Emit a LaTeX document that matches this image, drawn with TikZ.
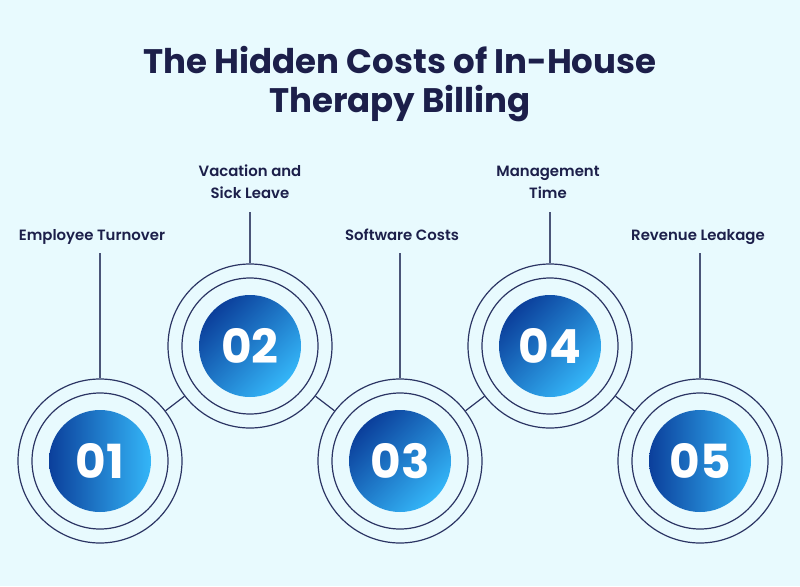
\documentclass[tikz,border=0pt]{standalone}
\usepackage{fontspec}
\setmainfont{Poppins}
\newfontfamily\medfont{Poppins}[UprightFont=* SemiBold]
\newfontfamily\boldfont{Poppins}[UprightFont=* Bold]
\definecolor{bgc}{HTML}{E8FAFE}
\definecolor{navy}{HTML}{1C1F4A}
\definecolor{ring}{HTML}{2B3463}
\definecolor{stem}{HTML}{4A5478}
\definecolor{gdark}{HTML}{0B3F9B}
\definecolor{glight}{HTML}{34B6F8}
\tikzset{
  outerring/.style={circle, draw=ring, line width=1.2pt, minimum size=164pt, inner sep=0pt},
  innerring/.style={circle, draw=ring, line width=1.2pt, minimum size=136pt, inner sep=0pt},
  diskh/.style={circle, minimum size=102pt, inner sep=0pt, left color=gdark, right color=glight},
  diskd/.style={circle, minimum size=102pt, inner sep=0pt, top color=gdark, bottom color=glight, shading angle=45},
  numtxt/.style={text=white, font=\boldfont\fontsize{47}{47}\selectfont, inner sep=0pt, anchor=base},
  lbl/.style={text=navy, font=\medfont\fontsize{14.9}{22}\selectfont, align=center, anchor=base},
  conn/.style={draw=ring, line width=1.2pt},
  stemline/.style={draw=stem, line width=1.4pt},
  ttl/.style={text=navy, font=\boldfont\fontsize{34}{39}\selectfont, align=center, anchor=base}
}
\begin{document}
\begin{tikzpicture}[x=1pt, y=-1pt]
\fill[bgc] (0,0) rectangle (800,586);
\useasboundingbox (0,0) rectangle (800,586);
\node[ttl] (title) at (400,112) {The Hidden Costs of In-House\\Therapy Billing};
% circles
\foreach \i/\x/\y/\s in {1/100/461/diskh, 2/250/346/diskd, 3/400/461/diskd, 4/550/346/diskd, 5/700/461/diskh}{
  \node[outerring] (o\i) at (\x,\y) {};
  \node[innerring] (r\i) at (\x,\y) {};
  \node[\s] (d\i) at (\x,\y) {};
  \node[numtxt] (n\i) at (\x,\y+17) {0\i};
}
% connectors
\draw[conn] (o1) -- (o2);
\draw[conn] (o2) -- (o3);
\draw[conn] (o3) -- (o4);
\draw[conn] (o4) -- (o5);
% labels
\node[lbl] (l1) at (92,240) {Employee Turnover};
\node[lbl] (l2) at (250,198) {Vacation and\\Sick Leave};
\node[lbl] (l3) at (402,240) {Software Costs};
\node[lbl] (l4) at (548,198) {Management\\Time};
\node[lbl] (l5) at (698,240) {Revenue Leakage};
\coordinate (t1) at (100,253);
\coordinate (t2) at (250,212);
\coordinate (t3) at (400,253);
\coordinate (t4) at (550,212);
\coordinate (t5) at (700,253);
\foreach \i in {1,...,5}{\draw[stemline] (t\i) -- (o\i.north);}
\end{tikzpicture}
\end{document}
